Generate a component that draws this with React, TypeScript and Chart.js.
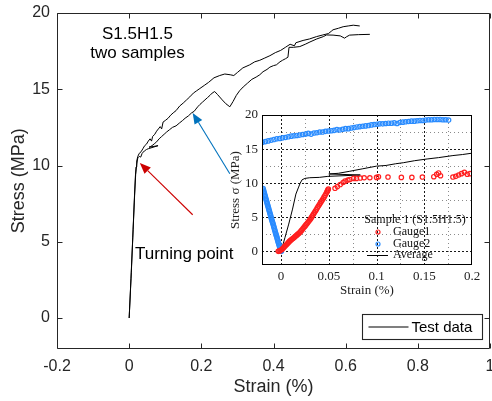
import { useEffect, useRef } from 'react';
import { Chart, registerables } from 'chart.js';
Chart.register(...registerables);

type Pt = [number, number];

// ---------------- Main chart data ----------------
const sampleA: Pt[] = [
  [0, 0], [0.005, 2.6], [0.01, 5.3], [0.014, 7.6], [0.017, 9.2], [0.019, 9.9], [0.021, 10.3],
  [0.024, 10.6], [0.028, 10.8], [0.033, 10.9], [0.038, 11.1], [0.043, 11.3], [0.048, 11.4],
  [0.053, 11.6], [0.058, 11.75], [0.062, 11.6], [0.065, 11.9], [0.071, 12.05], [0.076, 12.25],
  [0.081, 12.4], [0.086, 12.55], [0.09, 12.4], [0.094, 12.85], [0.1, 12.95], [0.108, 13.1],
  [0.115, 13.3], [0.122, 13.45], [0.13, 13.6], [0.14, 13.9], [0.15, 14.1], [0.159, 14.3],
  [0.168, 14.5], [0.178, 14.75], [0.187, 14.9], [0.196, 15.05], [0.208, 15.25], [0.22, 15.45],
  [0.235, 15.75], [0.251, 15.9], [0.265, 16.0], [0.28, 15.95], [0.29, 15.9], [0.3, 16.1],
  [0.315, 16.4], [0.334, 16.6], [0.348, 16.8], [0.362, 16.9], [0.376, 17.05], [0.39, 17.2],
  [0.405, 17.4], [0.42, 17.55], [0.433, 17.75], [0.446, 17.95], [0.458, 17.85], [0.462, 18.05],
  [0.482, 18.2], [0.5, 18.3], [0.519, 18.45], [0.535, 18.55], [0.552, 18.65], [0.56, 18.8],
  [0.565, 18.9], [0.58, 19.0], [0.593, 19.1], [0.607, 19.15], [0.621, 19.2], [0.639, 19.15],
];

const sampleB: Pt[] = [
  [0, 0], [0.006, 3.0], [0.011, 5.8], [0.015, 8.0], [0.018, 9.4], [0.021, 10.1], [0.024, 10.5],
  [0.028, 10.6], [0.032, 10.55], [0.036, 10.8], [0.042, 10.95], [0.048, 11.05], [0.053, 11.1],
  [0.08, 11.3], [0.055, 11.2], [0.06, 11.25], [0.066, 11.35], [0.071, 11.45], [0.076, 11.55],
  [0.083, 11.75], [0.09, 11.9], [0.097, 12.05], [0.104, 12.2], [0.112, 12.35], [0.12, 12.5],
  [0.13, 12.6], [0.14, 12.8], [0.148, 12.95], [0.155, 13.1], [0.164, 13.25], [0.173, 13.45],
  [0.18, 13.55], [0.185, 13.7], [0.19, 13.85], [0.196, 14.0], [0.203, 14.15], [0.21, 14.3],
  [0.217, 14.45], [0.224, 14.6], [0.23, 14.75], [0.237, 14.85], [0.245, 14.65], [0.258, 14.3],
  [0.268, 14.05], [0.279, 13.85], [0.288, 14.2], [0.297, 14.6], [0.306, 14.9], [0.316, 15.15],
  [0.328, 15.4], [0.34, 15.65], [0.352, 15.8], [0.362, 15.95], [0.371, 16.15], [0.382, 16.3],
  [0.39, 16.45], [0.4, 16.55], [0.408, 16.6], [0.418, 16.8], [0.425, 16.9], [0.433, 17.0],
  [0.44, 17.1], [0.443, 17.75], [0.455, 17.75], [0.473, 17.8], [0.488, 17.95], [0.501, 18.1],
  [0.52, 18.3], [0.538, 18.45], [0.547, 18.56], [0.565, 18.55], [0.585, 18.5], [0.597, 18.35],
  [0.603, 18.45], [0.611, 18.55], [0.635, 18.58], [0.667, 18.6],
];

const mainSeriesLabels = ['Test data', 'Test data'];

const mainXTicks = [-0.2, 0, 0.2, 0.4, 0.6, 0.8, 1];
const mainXLabels = ['-0.2', '0', '0.2', '0.4', '0.6', '0.8', '1'];
const mainYTicks = [0, 5, 10, 15, 20];
const mainYLabels = ['0', '5', '10', '15', '20'];

const notes: { text: string; at: Pt; align: CanvasTextAlign }[] = [
  { text: 'S1.5H1.5', at: [0.023, 18.6], align: 'center' },
  { text: 'two samples', at: [0.023, 17.35], align: 'center' },
  { text: 'Turning point', at: [0.016, 4.2], align: 'left' },
];

const arrows: { from: Pt; to: Pt; color: string }[] = [
  { from: [0.176, 6.77], to: [0.0296, 10.17], color: '#CC0000' },
  { from: [0.279, 9.46], to: [0.176, 13.45], color: '#0072BD' },
];

// ---------------- Inset data ----------------
const insetXTicks = [0, 0.05, 0.1, 0.15, 0.2];
const insetXLabels = ['0', '0.05', '0.1', '0.15', '0.2'];
const insetXMinor = [0.025, 0.075, 0.125, 0.175];
const insetYTicks = [0, 5, 10, 15, 20];
const insetYLabels = ['0', '5', '10', '15', '20'];
const insetYMinor = [2.5, 7.5, 12.5, 17.5];

const insetLegendTitle = 'Sample 1 (S1.5H1.5)';
const insetSeriesLabels = ['Gauge1', 'Gauge2', 'Average'];

const gauge1: Pt[] = [
  [-0.003, 0], [-0.002, 0.05], [-0.001, 0.1], [0, 0.2], [0.001, 0.3], [0.002, 0.45], [0.003, 0.6],
  [0.004, 0.75], [0.005, 0.9], [0.006, 1.05], [0.007, 1.2], [0.008, 1.35], [0.009, 1.5],
  [0.01, 1.62], [0.011, 1.75], [0.012, 1.85], [0.013, 1.95], [0.014, 2.08], [0.015, 2.2],
  [0.016, 2.32], [0.017, 2.45], [0.018, 2.58], [0.019, 2.7], [0.02, 2.85], [0.021, 3.0],
  [0.022, 3.18], [0.023, 3.35], [0.024, 3.52], [0.025, 3.7], [0.026, 3.88], [0.027, 4.05],
  [0.028, 4.22], [0.029, 4.4], [0.03, 4.6], [0.031, 4.8], [0.032, 5.02], [0.033, 5.25],
  [0.034, 5.48], [0.035, 5.7], [0.036, 5.92], [0.037, 6.15], [0.038, 6.38], [0.039, 6.6],
  [0.04, 6.82], [0.041, 7.05], [0.042, 7.28], [0.043, 7.5], [0.044, 7.72], [0.045, 7.95],
  [0.046, 8.2], [0.047, 8.45], [0.048, 8.7], [0.0485, 8.85], [0.049, 9.0], [0.0495, 9.15],
  [0.0565, 9.25], [0.059, 9.5], [0.062, 9.8], [0.065, 10.1], [0.067, 10.3], [0.07, 10.45],
  [0.072, 10.55], [0.076, 10.7], [0.079, 10.7], [0.083, 10.75], [0.087, 10.8], [0.093, 10.8],
  [0.1, 10.85], [0.102, 10.95], [0.112, 10.9], [0.126, 10.85], [0.137, 10.85], [0.148, 10.9],
  [0.16, 10.95], [0.163, 11.3], [0.165, 11.5], [0.167, 11.1], [0.18, 10.9], [0.183, 11.0],
  [0.186, 11.2], [0.189, 11.4], [0.192, 11.6], [0.195, 11.3], [0.198, 11.4],
];

const gauge2Lower: Pt[] = [
  [-0.0188, 9.2], [-0.0185, 9.0], [-0.0181, 8.8], [-0.0177, 8.6], [-0.0173, 8.4], [-0.0169, 8.2],
  [-0.0165, 8.0], [-0.0161, 7.8], [-0.0157, 7.6], [-0.0153, 7.4], [-0.0149, 7.2], [-0.0145, 7.0],
  [-0.0141, 6.8], [-0.0137, 6.6], [-0.0133, 6.4], [-0.0129, 6.2], [-0.0125, 6.0], [-0.0121, 5.8],
  [-0.0117, 5.6], [-0.0113, 5.4], [-0.0109, 5.2], [-0.0105, 5.0], [-0.0101, 4.8], [-0.0097, 4.6],
  [-0.0093, 4.4], [-0.0089, 4.22], [-0.0085, 4.05], [-0.0081, 3.85], [-0.0077, 3.65],
  [-0.0073, 3.45], [-0.0069, 3.25], [-0.0065, 3.05], [-0.0061, 2.85], [-0.0057, 2.65],
  [-0.0053, 2.45], [-0.0049, 2.28], [-0.0045, 2.1], [-0.0041, 1.9], [-0.0037, 1.7],
  [-0.0033, 1.5], [-0.0029, 1.3], [-0.0025, 1.12], [-0.0021, 0.95], [-0.0017, 0.75],
  [-0.0013, 0.55], [-0.0009, 0.38], [-0.0005, 0.2], [-0.0001, 0.08], [0.0003, 0.0],
];

const gauge2Upper: Pt[] = [
  [-0.0195, 16.0], [-0.0165, 16.1], [-0.0135, 16.2], [-0.0105, 16.3], [-0.0075, 16.4],
  [-0.0045, 16.5], [-0.0015, 16.55], [0.0015, 16.65], [0.0045, 16.7], [0.0075, 16.8],
  [0.0105, 16.9], [0.0135, 16.95], [0.0165, 17.0], [0.0195, 17.05], [0.0225, 17.15],
  [0.0255, 17.2], [0.0285, 17.3], [0.0315, 17.2], [0.0345, 17.35], [0.0375, 17.4],
  [0.0405, 17.5], [0.0435, 17.5], [0.0465, 17.6], [0.0495, 17.65], [0.0525, 17.7],
  [0.0555, 17.75], [0.0585, 17.85], [0.0615, 17.8], [0.0645, 17.9], [0.0675, 18.0],
  [0.0705, 18.0], [0.0735, 18.1], [0.0765, 18.15], [0.0795, 18.25], [0.0825, 18.3],
  [0.0855, 18.35], [0.0885, 18.4], [0.0915, 18.45], [0.0945, 18.55], [0.0975, 18.6],
  [0.1005, 18.65], [0.1035, 18.7], [0.1065, 18.7], [0.1095, 18.75], [0.1125, 18.8],
  [0.1155, 18.8], [0.1185, 18.85], [0.1215, 18.75], [0.1245, 18.9], [0.1275, 18.95],
  [0.1305, 19.0], [0.1335, 19.05], [0.1365, 19.1], [0.1395, 19.1], [0.1425, 19.15],
  [0.1455, 19.2], [0.1485, 19.2], [0.1515, 19.25], [0.1545, 19.3], [0.1575, 19.3],
  [0.1605, 19.35], [0.1635, 19.35], [0.1665, 19.35], [0.1695, 19.3], [0.1725, 19.3],
  [0.1755, 19.25],
];

const average: Pt[] = [
  [0, 0], [0.004, 2.0], [0.008, 4.0], [0.012, 6.2], [0.0155, 8.4], [0.018, 9.3], [0.02, 10.0],
  [0.022, 10.5], [0.025, 10.7], [0.03, 10.8], [0.04, 10.85], [0.049, 11.0], [0.083, 11.2],
  [0.05, 11.35], [0.06, 11.45], [0.072, 11.75], [0.085, 12.1], [0.1, 12.5], [0.11, 12.6],
  [0.12, 12.85], [0.128, 13.0], [0.14, 13.3], [0.153, 13.55], [0.165, 13.75], [0.18, 14.05],
  [0.19, 14.2], [0.2, 14.4],
];

// ---------------- Styles ----------------
const SANS = "'Liberation Sans', Arial, Helvetica, sans-serif";
const SERIF = "'Liberation Serif', 'Times New Roman', serif";
const AXIS = '#262626';
const RED = '#ff1f1f';
const BLUE = '#2a8cff';

const toXY = (pts: Pt[]) => pts.map(([x, y]) => ({ x, y }));

const zeroPad = (s: any) => {
  s.paddingLeft = 0; s.paddingRight = 0; s.paddingTop = 0; s.paddingBottom = 0;
};

function drawArrow(ctx: CanvasRenderingContext2D, x1: number, y1: number, x2: number, y2: number, color: string) {
  const ang = Math.atan2(y2 - y1, x2 - x1);
  const len = 11;
  const hw = 4.5;
  const bx = x2 - len * Math.cos(ang);
  const by = y2 - len * Math.sin(ang);
  ctx.strokeStyle = color;
  ctx.fillStyle = color;
  ctx.lineWidth = 1.1;
  ctx.beginPath();
  ctx.moveTo(x1, y1);
  ctx.lineTo(bx, by);
  ctx.stroke();
  ctx.beginPath();
  ctx.moveTo(x2, y2);
  ctx.lineTo(bx + hw * Math.sin(ang), by - hw * Math.cos(ang));
  ctx.lineTo(bx - hw * Math.sin(ang), by + hw * Math.cos(ang));
  ctx.closePath();
  ctx.fill();
}

const mainDecor = {
  id: 'mainDecor',
  afterDraw(chart: any) {
    const { ctx, chartArea: a, scales } = chart;
    const xs = scales.x;
    const ys = scales.y;
    ctx.save();
    const L = Math.round(a.left) + 0.5;
    const R = Math.round(a.right) - 0.5;
    const T = Math.round(a.top) + 0.5;
    const B = Math.round(a.bottom) - 0.5;
    ctx.strokeStyle = AXIS;
    ctx.lineWidth = 1;
    ctx.beginPath();
    ctx.rect(L, T, R - L, B - T);
    ctx.stroke();
    const tl = 5;
    ctx.beginPath();
    mainXTicks.forEach((v) => {
      const px = Math.round(xs.getPixelForValue(v)) + 0.5;
      ctx.moveTo(px, B); ctx.lineTo(px, B - tl);
      ctx.moveTo(px, T); ctx.lineTo(px, T + tl);
    });
    mainYTicks.forEach((v) => {
      const py = Math.round(ys.getPixelForValue(v)) + 0.5;
      ctx.moveTo(L, py); ctx.lineTo(L + tl, py);
      ctx.moveTo(R, py); ctx.lineTo(R - tl, py);
    });
    ctx.stroke();

    // annotations
    ctx.fillStyle = '#000';
    ctx.font = `17px ${SANS}`;
    ctx.textBaseline = 'middle';
    notes.forEach((n) => {
      ctx.textAlign = n.align;
      ctx.fillText(n.text, xs.getPixelForValue(n.at[0]), ys.getPixelForValue(n.at[1]));
    });

    arrows.forEach((ar) => {
      drawArrow(
        ctx,
        xs.getPixelForValue(ar.from[0]), ys.getPixelForValue(ar.from[1]),
        xs.getPixelForValue(ar.to[0]), ys.getPixelForValue(ar.to[1]),
        ar.color,
      );
    });

    // legend
    const bw = 120, bh = 25;
    const bx = Math.round(a.right) - 8 - bw + 0.5;
    const by = Math.round(a.bottom) - 10 - bh + 0.5;
    ctx.fillStyle = '#fff';
    ctx.fillRect(bx, by, bw, bh);
    ctx.strokeStyle = AXIS;
    ctx.strokeRect(bx, by, bw, bh);
    ctx.strokeStyle = '#000';
    ctx.beginPath();
    ctx.moveTo(bx + 6, by + bh / 2);
    ctx.lineTo(bx + 46, by + bh / 2);
    ctx.stroke();
    ctx.fillStyle = '#000';
    ctx.font = `15px ${SANS}`;
    ctx.textAlign = 'left';
    ctx.fillText(chart.data.datasets[0].label, bx + 49, by + bh / 2 + 0.5);
    ctx.restore();
  },
};

const insetDecor = {
  id: 'insetDecor',
  beforeDatasetsDraw(chart: any) {
    const { ctx, chartArea: a, scales } = chart;
    const xs = scales.x;
    const ys = scales.y;
    ctx.save();
    ctx.fillStyle = '#fff';
    ctx.fillRect(a.left, a.top, a.right - a.left, a.bottom - a.top);
    ctx.lineWidth = 1;
    // minor grid
    ctx.strokeStyle = '#8a8a8a';
    ctx.setLineDash([1, 3]);
    ctx.beginPath();
    insetXMinor.forEach((v) => {
      const px = Math.round(xs.getPixelForValue(v)) + 0.5;
      ctx.moveTo(px, a.top); ctx.lineTo(px, a.bottom);
    });
    insetYMinor.forEach((v) => {
      const py = Math.round(ys.getPixelForValue(v)) + 0.5;
      ctx.moveTo(a.left, py); ctx.lineTo(a.right, py);
    });
    ctx.stroke();
    // major grid
    ctx.strokeStyle = '#1a1a1a';
    ctx.setLineDash([2, 2]);
    ctx.beginPath();
    insetXTicks.forEach((v) => {
      const px = Math.round(xs.getPixelForValue(v)) + 0.5;
      if (px > a.right - 2) return;
      ctx.moveTo(px, a.top); ctx.lineTo(px, a.bottom);
    });
    insetYTicks.forEach((v) => {
      const py = Math.round(ys.getPixelForValue(v)) + 0.5;
      if (py < a.top + 2) return;
      ctx.moveTo(a.left, py); ctx.lineTo(a.right, py);
    });
    ctx.stroke();
    ctx.restore();
  },
  afterDraw(chart: any) {
    const { ctx, chartArea: a } = chart;
    ctx.save();
    ctx.strokeStyle = '#000';
    ctx.lineWidth = 1;
    ctx.strokeRect(Math.round(a.left) + 0.5, Math.round(a.top) + 0.5,
      Math.round(a.right - a.left) - 1, Math.round(a.bottom - a.top) - 1);

    // legend (transparent)
    ctx.fillStyle = '#111';
    ctx.font = `12px ${SERIF}`;
    ctx.textBaseline = 'middle';
    ctx.textAlign = 'center';
    ctx.fillText(insetLegendTitle, a.right - 57, a.top + 105);
    ctx.textAlign = 'left';
    const ds = chart.data.datasets;
    const mx = a.right - 94;
    const tx = a.right - 79;
    const rows = [a.top + 117, a.top + 129, a.top + 140];
    ds.forEach((d: any, i: number) => {
      const yy = rows[i];
      ctx.setLineDash([]);
      if (d.showLine) {
        ctx.strokeStyle = d.borderColor;
        ctx.lineWidth = 1;
        ctx.beginPath();
        ctx.moveTo(a.right - 105, yy + 0.5);
        ctx.lineTo(a.right - 84, yy + 0.5);
        ctx.stroke();
      } else {
        ctx.strokeStyle = d.borderColor;
        ctx.lineWidth = 1.2;
        ctx.beginPath();
        ctx.arc(mx, yy, 2, 0, Math.PI * 2);
        ctx.stroke();
      }
      ctx.fillStyle = '#111';
      ctx.fillText(d.label, tx, yy);
    });
    ctx.restore();
  },
};

function MainChart() {
  const ref = useRef<HTMLCanvasElement>(null);
  useEffect(() => {
    if (!ref.current) return;
    const chart = new Chart(ref.current, {
      type: 'scatter',
      data: {
        datasets: [
          { label: mainSeriesLabels[0], data: toXY(sampleA), showLine: true, borderColor: '#000', borderWidth: 1, pointRadius: 0, fill: false },
          { label: mainSeriesLabels[1], data: toXY(sampleB), showLine: true, borderColor: '#000', borderWidth: 1, pointRadius: 0, fill: false },
        ],
      },
      options: {
        animation: false,
        responsive: false,
        events: [],
        layout: { padding: { left: 0, right: 2, top: 13, bottom: 0 }, autoPadding: false },
        plugins: { legend: { display: false }, tooltip: { enabled: false } },
        scales: {
          x: {
            type: 'linear', min: -0.2, max: 1,
            afterBuildTicks: (s: any) => { s.ticks = mainXTicks.map((v) => ({ value: v })); },
            afterFit: (s: any) => { s.height = 52.5; zeroPad(s); },
            ticks: { callback: (_v: any, i: number) => mainXLabels[i], font: { size: 16, family: SANS }, color: AXIS, padding: 8, maxRotation: 0, minRotation: 0, autoSkip: false },
            grid: { display: false, drawTicks: false },
            border: { display: false },
            title: { display: true, text: 'Strain (%)', font: { size: 18, family: SANS }, color: AXIS, padding: { top: 0, bottom: 3 } },
          },
          y: {
            type: 'linear', min: -2, max: 20,
            afterBuildTicks: (s: any) => { s.ticks = mainYTicks.map((v) => ({ value: v })); },
            afterFit: (s: any) => { s.width = 57; zeroPad(s); },
            ticks: { callback: (_v: any, i: number) => mainYLabels[i], font: { size: 16, family: SANS }, color: AXIS, padding: 7, autoSkip: false },
            grid: { display: false, drawTicks: false },
            border: { display: false },
            title: { display: true, text: 'Stress (MPa)', font: { size: 18, family: SANS }, color: AXIS, padding: { top: 8, bottom: 0 } },
          },
        },
      },
      plugins: [mainDecor],
    } as any);
    return () => chart.destroy();
  }, []);
  return <canvas ref={ref} width={492} height={401} style={{ position: 'absolute', left: 0, top: 0, width: 492, height: 401 }} />;
}

function InsetChart() {
  const ref = useRef<HTMLCanvasElement>(null);
  useEffect(() => {
    if (!ref.current) return;
    const chart = new Chart(ref.current, {
      type: 'scatter',
      data: {
        datasets: [
          { label: insetSeriesLabels[0], data: toXY(gauge1), showLine: false, borderColor: RED, backgroundColor: 'rgba(0,0,0,0)', borderWidth: 1.2, pointRadius: 2.2, pointStyle: 'circle' },
          { label: insetSeriesLabels[1], data: toXY([...gauge2Lower, ...gauge2Upper]), showLine: false, borderColor: BLUE, backgroundColor: 'rgba(0,0,0,0)', borderWidth: 1.2, pointRadius: 2.2, pointStyle: 'circle' },
          { label: insetSeriesLabels[2], data: toXY(average), showLine: true, borderColor: '#000', borderWidth: 1, pointRadius: 0, fill: false },
        ],
      },
      options: {
        animation: false,
        responsive: false,
        events: [],
        layout: { padding: { left: 0, right: 12, top: 10, bottom: 0 }, autoPadding: false },
        plugins: { legend: { display: false }, tooltip: { enabled: false } },
        scales: {
          x: {
            type: 'linear', min: -0.02, max: 0.2,
            afterBuildTicks: (s: any) => { s.ticks = insetXTicks.map((v) => ({ value: v })); },
            afterFit: (s: any) => { s.height = 35; zeroPad(s); },
            ticks: { callback: (_v: any, i: number) => insetXLabels[i], font: { size: 13, family: SERIF }, color: '#222', padding: 4, maxRotation: 0, minRotation: 0, autoSkip: false },
            grid: { display: false, drawTicks: false },
            border: { display: false },
            title: { display: true, text: 'Strain (%)', font: { size: 13, family: SERIF }, color: '#222', padding: { top: 0, bottom: 2 } },
          },
          y: {
            type: 'linear', min: -2, max: 20,
            afterBuildTicks: (s: any) => { s.ticks = insetYTicks.map((v) => ({ value: v })); },
            afterFit: (s: any) => { s.width = 40; zeroPad(s); },
            ticks: { callback: (_v: any, i: number) => insetYLabels[i], font: { size: 13, family: SERIF }, color: '#222', padding: 4, autoSkip: false },
            grid: { display: false, drawTicks: false },
            border: { display: false },
            title: { display: true, text: 'Stress σ (MPa)', font: { size: 13, family: SERIF }, color: '#222', padding: { top: 6, bottom: 0 } },
          },
        },
      },
      plugins: [insetDecor],
    } as any);
    return () => chart.destroy();
  }, []);
  return <canvas ref={ref} width={262} height={195} style={{ position: 'absolute', left: 222, top: 105, width: 262, height: 195 }} />;
}

export default function App() {
  return (
    <div style={{ position: 'absolute', left: 0, top: 0, width: 492, height: 401, background: '#fff' }}>
      <MainChart />
      <InsetChart />
    </div>
  );
}
